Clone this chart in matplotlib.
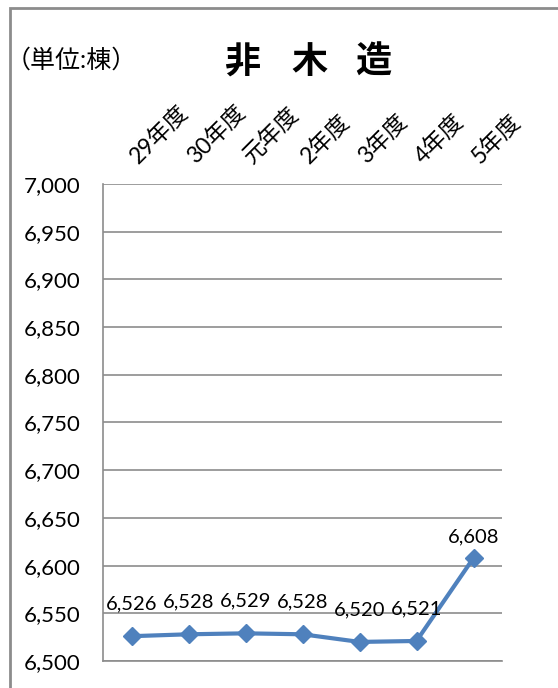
import matplotlib.pyplot as plt
from matplotlib.patches import Rectangle
from matplotlib.ticker import FuncFormatter, MultipleLocator
from matplotlib.transforms import ScaledTranslation

plt.rcParams['font.family'] = ['Lato', 'Noto Sans CJK JP', 'DejaVu Sans']

# data
years = ["29年度", "30年度", "元年度", "2年度", "3年度", "4年度", "5年度"]
counts = [6526, 6528, 6529, 6528, 6520, 6521, 6608]
label_offsets = [17, 17, 17, 17, 17, 17, 9]  # points above marker
title_chars = ["非", "木", "造"]

fig = plt.figure(figsize=(5.58, 6.88), dpi=100)
ax = fig.add_axes([103 / 558, 1 - 661 / 688, 399 / 558, 477 / 688])

x = range(len(years))
ax.plot(x, counts, color="#4F81BD", linewidth=3, marker="D", markersize=9, zorder=3)

for i, (v, off) in enumerate(zip(counts, label_offsets)):
    ax.annotate(f"{v:,}", (i, v), xytext=(0, off), textcoords="offset points",
                ha="center", va="bottom", fontsize=14.5)

ax.set_xlim(-0.5, len(years) - 0.5)
ax.set_ylim(6500, 7000)
ax.yaxis.set_major_locator(MultipleLocator(50))
ax.yaxis.set_major_formatter(FuncFormatter(lambda v, p: f"{int(v):,}"))
ax.grid(axis="y", color="#8c8c8c", linewidth=1.2)
ax.set_axisbelow(True)

# category labels sit above the plot, rotated 45 degrees
ax.set_xticks([])
shift = ScaledTranslation(5 / 72, 14 / 72, fig.dpi_scale_trans)
for i, yr in enumerate(years):
    ax.text(i, 1.0, yr, transform=ax.get_xaxis_transform() + shift,
            rotation=45, rotation_mode="anchor", ha="left", va="baseline",
            fontsize=16.5)
ax.tick_params(axis="y", length=0, pad=16, labelsize=16)

for s in ["top", "right"]:
    ax.spines[s].set_visible(False)
for s in ["left", "bottom"]:
    ax.spines[s].set_color("#8c8c8c")
    ax.spines[s].set_linewidth(1.2)

# outer chart border (cut off at right and bottom)
fig.patches.append(Rectangle((10 / 558, -0.1), 1.2, 1.1 - 8 / 688,
                             transform=fig.transFigure, fill=False,
                             edgecolor="#8c8c8c", linewidth=2))

fig.text(6 / 558, 1 - 60 / 688, "（単位:棟）", fontsize=18, va="center", ha="left")
for ch, cx in zip(title_chars, [242, 310, 373]):
    fig.text(cx / 558, 1 - 62 / 688, ch, fontsize=26, fontweight="bold",
             va="center", ha="center")

fig.savefig("out.png", dpi=100)
